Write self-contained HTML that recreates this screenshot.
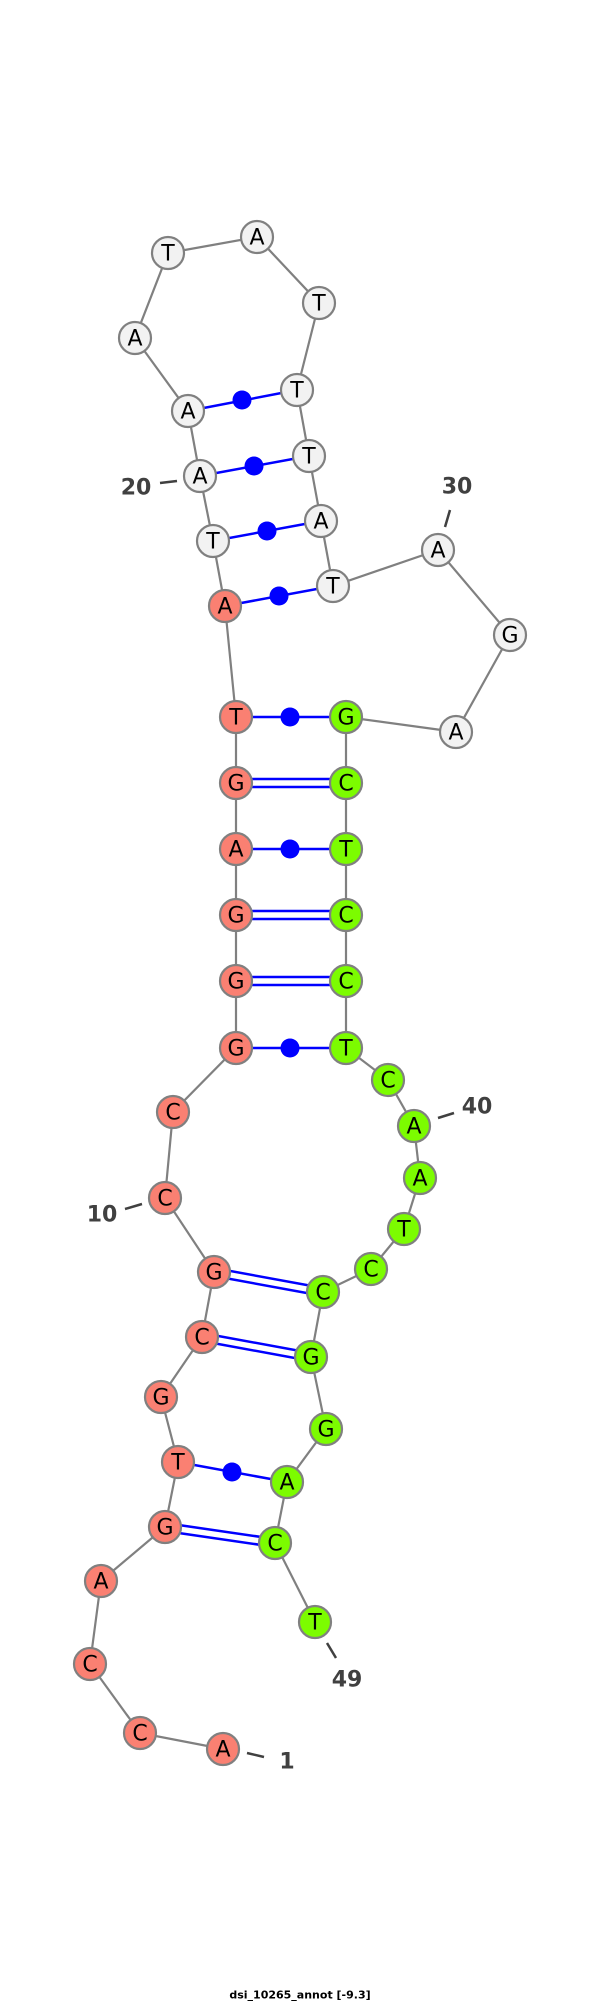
<!DOCTYPE html>
<html><head><meta charset="utf-8"><style>
html,body{margin:0;padding:0;background:#fff;}
svg{display:block;}
.n{stroke:#808080;stroke-width:2.2;}
.r{fill:#fa8072}.g{fill:#7cfc00}.w{fill:#f2f2f2}
.t{font-family:"DejaVu Sans","Liberation Sans",sans-serif;font-size:22px;text-anchor:middle;dominant-baseline:central;fill:#000}
.l{font-family:"DejaVu Sans","Liberation Sans",sans-serif;font-size:22px;text-anchor:middle;dominant-baseline:central;fill:#404040;font-weight:bold}
.p{stroke:#0000ff;stroke-width:2.5;fill:none}
.k{stroke:#404040;stroke-width:2.5}
</style></head><body>
<svg width="600" height="2004" viewBox="0 0 600 2004" xmlns="http://www.w3.org/2000/svg">
<polyline fill="none" stroke="#808080" stroke-width="2.2" points="223,1749 140,1733 90,1664 101,1581 165,1527 178,1462 161,1397 202,1337 214,1272 165,1198 173,1112 236,1048 236,981 236,915 236,849 236,783 236,717 225,606 213,541 200,476 188,411 135,338 168,253 257,237 319,303 297,390 309,456 321,521 333,586 438,550 510,635 456,732 346,717 346,783 346,849 346,915 346,981 346,1048 388,1080 414,1126 420,1178 404,1229 371,1269 323,1292 311,1357 326,1429 287,1482 275,1543 315,1622"/>
<g class="p">
<line x1="165" y1="1523" x2="275" y2="1539"/><line x1="165" y1="1531" x2="275" y2="1547"/>
<line x1="202" y1="1333" x2="311" y2="1353"/><line x1="202" y1="1341" x2="311" y2="1361"/>
<line x1="214" y1="1268" x2="323" y2="1288"/><line x1="214" y1="1276" x2="323" y2="1296"/>
<line x1="236" y1="977" x2="346" y2="977"/><line x1="236" y1="985" x2="346" y2="985"/>
<line x1="236" y1="911" x2="346" y2="911"/><line x1="236" y1="919" x2="346" y2="919"/>
<line x1="236" y1="779" x2="346" y2="779"/><line x1="236" y1="787" x2="346" y2="787"/>
<line x1="178" y1="1462" x2="287" y2="1482"/>
<line x1="236" y1="1048" x2="346" y2="1048"/>
<line x1="236" y1="849" x2="346" y2="849"/>
<line x1="236" y1="717" x2="346" y2="717"/>
<line x1="225" y1="606" x2="333" y2="586"/>
<line x1="213" y1="541" x2="321" y2="521"/>
<line x1="200" y1="476" x2="309" y2="456"/>
<line x1="188" y1="411" x2="297" y2="390"/>
</g>
<g fill="#0000ff">
<circle cx="232" cy="1472" r="9.5"/>
<circle cx="290" cy="1048" r="9.5"/>
<circle cx="290" cy="849" r="9.5"/>
<circle cx="290" cy="717" r="9.5"/>
<circle cx="279" cy="596" r="9.5"/>
<circle cx="267" cy="531" r="9.5"/>
<circle cx="254" cy="466" r="9.5"/>
<circle cx="242" cy="400" r="9.5"/>
</g>
<line class="k" x1="247" y1="1753" x2="264" y2="1757"/>
<line class="k" x1="327" y1="1643" x2="336" y2="1658"/>
<line class="k" x1="125" y1="1209" x2="142" y2="1204"/>
<line class="k" x1="438" y1="1118" x2="454" y2="1113"/>
<line class="k" x1="160" y1="483" x2="177" y2="481"/>
<line class="k" x1="450" y1="510" x2="445" y2="527"/>
<g class="n">
<circle class="r" cx="223" cy="1749" r="16"/><circle class="r" cx="140" cy="1733" r="16"/><circle class="r" cx="90" cy="1664" r="16"/><circle class="r" cx="101" cy="1581" r="16"/><circle class="r" cx="165" cy="1527" r="16"/><circle class="r" cx="178" cy="1462" r="16"/><circle class="r" cx="161" cy="1397" r="16"/><circle class="r" cx="202" cy="1337" r="16"/><circle class="r" cx="214" cy="1272" r="16"/><circle class="r" cx="165" cy="1198" r="16"/><circle class="r" cx="173" cy="1112" r="16"/><circle class="r" cx="236" cy="1048" r="16"/><circle class="r" cx="236" cy="981" r="16"/><circle class="r" cx="236" cy="915" r="16"/><circle class="r" cx="236" cy="849" r="16"/><circle class="r" cx="236" cy="783" r="16"/><circle class="r" cx="236" cy="717" r="16"/><circle class="r" cx="225" cy="606" r="16"/>
<circle class="w" cx="213" cy="541" r="16"/><circle class="w" cx="200" cy="476" r="16"/><circle class="w" cx="188" cy="411" r="16"/><circle class="w" cx="135" cy="338" r="16"/><circle class="w" cx="168" cy="253" r="16"/><circle class="w" cx="257" cy="237" r="16"/><circle class="w" cx="319" cy="303" r="16"/><circle class="w" cx="297" cy="390" r="16"/><circle class="w" cx="309" cy="456" r="16"/><circle class="w" cx="321" cy="521" r="16"/><circle class="w" cx="333" cy="586" r="16"/><circle class="w" cx="438" cy="550" r="16"/><circle class="w" cx="510" cy="635" r="16"/><circle class="w" cx="456" cy="732" r="16"/>
<circle class="g" cx="346" cy="717" r="16"/><circle class="g" cx="346" cy="783" r="16"/><circle class="g" cx="346" cy="849" r="16"/><circle class="g" cx="346" cy="915" r="16"/><circle class="g" cx="346" cy="981" r="16"/><circle class="g" cx="346" cy="1048" r="16"/><circle class="g" cx="388" cy="1080" r="16"/><circle class="g" cx="414" cy="1126" r="16"/><circle class="g" cx="420" cy="1178" r="16"/><circle class="g" cx="404" cy="1229" r="16"/><circle class="g" cx="371" cy="1269" r="16"/><circle class="g" cx="323" cy="1292" r="16"/><circle class="g" cx="311" cy="1357" r="16"/><circle class="g" cx="326" cy="1429" r="16"/><circle class="g" cx="287" cy="1482" r="16"/><circle class="g" cx="275" cy="1543" r="16"/><circle class="g" cx="315" cy="1622" r="16"/>
</g>
<g class="t">
<text x="223" y="1750">A</text><text x="140" y="1734">C</text><text x="90" y="1665">C</text><text x="101" y="1582">A</text><text x="165" y="1528">G</text><text x="178" y="1463">T</text><text x="161" y="1398">G</text><text x="202" y="1338">C</text><text x="214" y="1273">G</text><text x="165" y="1199">C</text><text x="173" y="1113">C</text><text x="236" y="1049">G</text><text x="236" y="982">G</text><text x="236" y="916">G</text><text x="236" y="850">A</text><text x="236" y="784">G</text><text x="236" y="718">T</text><text x="225" y="607">A</text>
<text x="213" y="542">T</text><text x="200" y="477">A</text><text x="188" y="412">A</text><text x="135" y="339">A</text><text x="168" y="254">T</text><text x="257" y="238">A</text><text x="319" y="304">T</text><text x="297" y="391">T</text><text x="309" y="457">T</text><text x="321" y="522">A</text><text x="333" y="587">T</text><text x="438" y="551">A</text><text x="510" y="636">G</text><text x="456" y="733">A</text>
<text x="346" y="718">G</text><text x="346" y="784">C</text><text x="346" y="850">T</text><text x="346" y="916">C</text><text x="346" y="982">C</text><text x="346" y="1049">T</text><text x="388" y="1081">C</text><text x="414" y="1127">A</text><text x="420" y="1179">A</text><text x="404" y="1230">T</text><text x="371" y="1270">C</text><text x="323" y="1293">C</text><text x="311" y="1358">G</text><text x="326" y="1430">G</text><text x="287" y="1483">A</text><text x="275" y="1544">C</text><text x="315" y="1623">T</text>
</g>
<g class="l">
<text x="287" y="1762">1</text>
<text x="347" y="1680">49</text>
<text x="102" y="1215">10</text>
<text x="477" y="1107">40</text>
<text x="136" y="488">20</text>
<text x="457" y="487">30</text>
</g>
<text x="300" y="1995" font-family="'DejaVu Sans','Liberation Sans',sans-serif" font-size="11" font-weight="bold" text-anchor="middle" dominant-baseline="central" fill="#000">dsi_10265_annot [-9.3]</text>
</svg>
</body></html>
